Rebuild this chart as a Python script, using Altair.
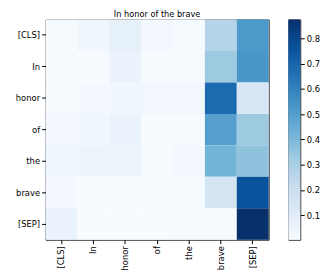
import altair as alt
import pandas as pd

tokens = ["[CLS]", "In", "honor", "of", "the", "brave", "[SEP]"]

row_cls = [0.010, 0.040, 0.080, 0.020, 0.010, 0.270, 0.520]
row_in = [0.010, 0.005, 0.060, 0.010, 0.010, 0.330, 0.530]
row_honor = [0.010, 0.020, 0.040, 0.030, 0.030, 0.680, 0.140]
row_of = [0.020, 0.040, 0.060, 0.005, 0.010, 0.500, 0.330]
row_the = [0.040, 0.050, 0.050, 0.010, 0.020, 0.420, 0.360]
row_brave = [0.020, 0.005, 0.005, 0.010, 0.010, 0.160, 0.760]
row_sep = [0.060, 0.003, 0.003, 0.003, 0.010, 0.010, 0.880]

rows = [row_cls, row_in, row_honor, row_of, row_the, row_brave, row_sep]

cbar_min = 0.003
cbar_max = 0.875
cbar_ticks = [0.1, 0.2, 0.3, 0.4, 0.5, 0.6, 0.7, 0.8]

blues = ["#f7fbff", "#deebf7", "#c6dbef", "#9ecae1", "#6baed6",
         "#4292c6", "#2171b5", "#08519c", "#08306b"]

records = []
for yi, r in enumerate(rows):
    for xi, v in enumerate(r):
        records.append({"x": tokens[xi], "y": tokens[yi], "v": v})
df = pd.DataFrame(records)

n = len(blues)
dom = [cbar_min + i * (cbar_max - cbar_min) / (n - 1) for i in range(n)]

font = "DejaVu Sans"
fs = 8.5
W, H = 226, 223

heat = alt.Chart(df, title=alt.TitleParams(
    "In honor of the brave", fontSize=8.3, font=font, fontWeight="normal",
    color="black", offset=1)).mark_rect().encode(
    x=alt.X("x:N", sort=tokens, title=None,
            axis=alt.Axis(labelAngle=-90, labelFontSize=fs, labelFont=font,
                          labelColor="black", tickColor="black", tickSize=4,
                          labelPadding=2, domain=False, grid=False)),
    y=alt.Y("y:N", sort=tokens, title=None,
            axis=alt.Axis(labelFontSize=fs, labelFont=font, labelColor="black",
                          tickColor="black", tickSize=4, labelPadding=2,
                          domain=False, grid=False)),
    color=alt.Color("v:Q", legend=None,
                    scale=alt.Scale(domain=dom, range=blues, clamp=True)),
).properties(width=W, height=H)

cb_df = pd.DataFrame({"lo": [cbar_min], "hi": [cbar_max]})
grad = alt.Gradient(
    gradient="linear", x1=0, y1=1, x2=0, y2=0,
    stops=[alt.GradientStop(offset=i / (n - 1), color=c) for i, c in enumerate(blues)],
)
cbar = alt.Chart(cb_df).mark_rect(color=grad).encode(
    y=alt.Y("lo:Q", title=None,
            scale=alt.Scale(domain=[cbar_min, cbar_max], nice=False, zero=False),
            axis=alt.Axis(orient="right", values=cbar_ticks, format=".1f",
                          labelFontSize=fs, labelFont=font, labelColor="black",
                          tickColor="black", tickSize=4, labelPadding=2,
                          domain=False, grid=False)),
    y2="hi:Q",
    x=alt.value(0),
    x2=alt.value(12),
).properties(width=12, height=H)

chart = alt.hconcat(heat, cbar, spacing=18).properties(
    padding={"left": 6, "top": 0, "right": 0, "bottom": 0}
).configure_view(stroke="#222", strokeWidth=1).configure_concat(spacing=18)

chart.save("out.html", embed_options={"renderer": "svg", "actions": False})
